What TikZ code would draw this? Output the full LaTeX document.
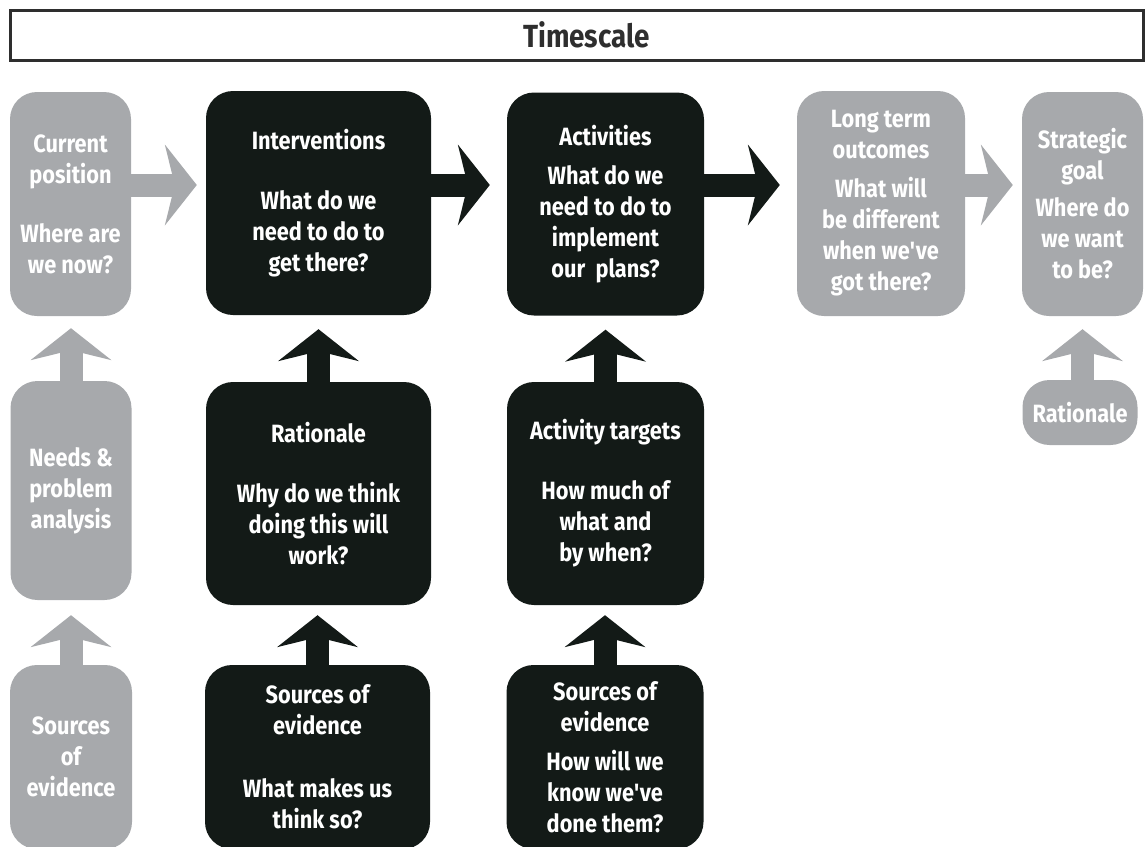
\documentclass[tikz,border=0pt]{standalone}
\usepackage{fontspec}
\setmainfont{Fira Sans}[FakeStretch=0.87]
\usepackage{xcolor}
\usetikzlibrary{arrows.meta}
\definecolor{boxgray}{HTML}{A7A9AC}
\definecolor{boxblack}{HTML}{131A17}
\definecolor{framegray}{HTML}{2E2E2E}

\tikzset{
	box/.style={rounded corners=27pt, inner sep=0pt, align=center, text=white,
		font=\fontsize{25}{31}\selectfont\bfseries},
	gbox/.style={box, fill=boxgray},
	bbox/.style={box, fill=boxblack},
	fatarrow/.style={line width=23pt, -{Stealth[length=32pt, width=81pt, inset=10pt, line width=0pt]}},
	garrow/.style={fatarrow, draw=boxgray},
	barrow/.style={fatarrow, draw=boxblack}
}

\begin{document}
\begin{tikzpicture}[x=1pt, y=-1pt]
	\clip (0,0) rectangle (1148,846);

	\draw[line width=3pt, framegray] (10,10) rectangle (1143,60);
	\node[font=\fontsize{32}{36}\selectfont\bfseries, text=framegray] (time) at (586.5,35) {Timescale};

	\node[gbox, minimum width=121pt, minimum height=224pt] (cur) at (70.5,204) {Current\\position\\[28pt]Where are\\we now?};
	\node[bbox, minimum width=225pt, minimum height=224pt] (int) at (318.5,203) {Interventions\\[29pt]What do we\\need to do to\\get there?};
	\node[bbox, minimum width=197pt, minimum height=223pt] (act) at (605.5,204) {Activities\\[8pt]What do we\\need to do to\\implement\\our~ plans?};
	\node[gbox, minimum width=168pt, minimum height=225pt] (long) at (881,203.5) {Long term\\outcomes\\[8pt]What will\\be different\\when we\textquotesingle ve\\got there?};
	\node[gbox, minimum width=121pt, minimum height=224pt] (goal) at (1082.5,204) {Strategic\\goal\\[6pt]Where do\\we want\\to be?};

	\node[gbox, minimum width=121pt, minimum height=219pt] (need) at (71,490.5) {Needs \&\\problem\\analysis};
	\node[bbox, minimum width=225pt, minimum height=223pt] (rat) at (318.5,493.5) {Rationale\\[29pt]Why do we think\\doing this will\\work?};
	\node[bbox, minimum width=197pt, minimum height=223pt] (targ) at (605.5,493.5) {Activity targets\\[29pt]How much of\\what and\\by when?};
	\node[gbox, minimum width=115pt, minimum height=65pt] (ratg) at (1080,412.5) {Rationale};

	\node[gbox, minimum width=122pt, minimum height=184pt] (srcg) at (71,757) {Sources\\of\\evidence};
	\node[bbox, minimum width=225pt, minimum height=184pt] (srca) at (317.5,757) {Sources of\\evidence\\[32pt]What makes us\\think so?};
	\node[bbox, minimum width=197pt, minimum height=184pt] (srcb) at (605,757) {Sources of\\evidence\\[8pt]How will we\\know we\textquotesingle ve\\done them?};

	\coordinate (arow) at (0,185);
	\draw[garrow, shorten >=9pt] (cur.east |- arow) -- (int.west |- arow);
	\draw[barrow, shorten >=17pt] (int.east |- arow) -- (act.west |- arow);
	\draw[barrow, shorten >=17pt] (act.east |- arow) -- (long.west |- arow);
	\draw[garrow, shorten >=9pt] (long.east |- arow) -- (goal.west |- arow);

	\draw[garrow, shorten >=12pt] (need.north) -- (need.north |- cur.south);
	\draw[barrow, shorten >=14pt] (rat.north) -- (int.south);
	\draw[barrow, shorten >=14pt] (targ.north) -- (targ.north |- act.south);
	\draw[garrow, shorten >=13pt] (ratg.north -| goal.south) -- (goal.south);

	\draw[garrow, shorten >=15pt] (srcg.north) -- (need.south);
	\draw[barrow, shorten >=10pt] (srca.north) -- (srca.north |- rat.south);
	\draw[barrow, shorten >=10pt] (srcb.north) -- (srcb.north |- targ.south);
\end{tikzpicture}
\end{document}
